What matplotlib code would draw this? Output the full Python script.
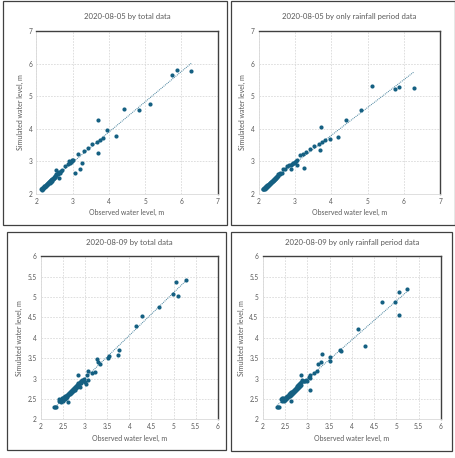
import numpy as np
import matplotlib
matplotlib.use("Agg")
import matplotlib.pyplot as plt
from matplotlib.patches import Rectangle

plt.rcParams['font.family'] = ['Lato', 'DejaVu Sans']

# 2020-08-05, total data
obs1 = [2.13, 2.14, 2.15, 2.16, 2.17, 2.18, 2.19, 2.20, 2.21, 2.22, 2.23, 2.24, 2.25, 2.26, 2.27,
        2.28, 2.29, 2.30, 2.31, 2.32, 2.33, 2.34, 2.35, 2.36, 2.37, 2.38, 2.39, 2.40, 2.41, 2.42,
        2.43, 2.44, 2.45, 2.46, 2.47, 2.48, 2.49, 2.50, 2.51, 2.52, 2.53, 2.54, 2.55, 2.56, 2.58,
        2.60, 2.61, 2.63, 2.65, 2.68, 2.70, 2.80, 2.87, 2.89, 2.92, 2.94, 2.97, 2.99, 3.02, 3.06,
        3.15, 3.21, 3.26, 3.30, 3.41, 3.53, 3.66, 3.69, 3.70, 3.74, 3.83, 3.95, 4.18, 4.42, 4.84,
        5.13, 5.74, 5.87, 6.27]
sim1 = [2.13, 2.16, 2.12, 2.17, 2.15, 2.19, 2.18, 2.21, 2.20, 2.23, 2.22, 2.25, 2.24, 2.27, 2.26,
        2.29, 2.28, 2.31, 2.30, 2.33, 2.32, 2.35, 2.36, 2.34, 2.38, 2.39, 2.37, 2.41, 2.42, 2.40,
        2.44, 2.45, 2.46, 2.44, 2.48, 2.50, 2.47, 2.52, 2.55, 2.50, 2.57, 2.73, 2.60, 2.62, 2.63,
        2.60, 2.48, 2.66, 2.64, 2.70, 2.73, 2.86, 2.90, 3.02, 2.95, 2.99, 3.00, 3.03, 3.04, 2.63,
        3.21, 2.75, 2.93, 3.30, 3.41, 3.52, 3.58, 3.25, 4.27, 3.66, 3.72, 3.96, 3.79, 4.61, 4.59,
        4.76, 5.66, 5.82, 5.78]

# 2020-08-05, only rainfall period data
obs2 = [2.12, 2.13, 2.14, 2.15, 2.16, 2.17, 2.18, 2.19, 2.20, 2.21, 2.22, 2.23, 2.24, 2.25, 2.26,
        2.27, 2.28, 2.29, 2.30, 2.31, 2.32, 2.33, 2.34, 2.35, 2.36, 2.37, 2.38, 2.39, 2.40, 2.41,
        2.42, 2.43, 2.44, 2.45, 2.46, 2.47, 2.48, 2.49, 2.50, 2.51, 2.52, 2.54, 2.56, 2.58, 2.60,
        2.63, 2.68, 2.72, 2.79, 2.84, 2.88, 2.90, 2.93, 2.95, 2.98, 3.01, 3.03, 3.06, 3.06, 3.14,
        3.22, 3.25, 3.29, 3.40, 3.52, 3.66, 3.69, 3.72, 3.73, 3.83, 3.95, 4.17, 4.41, 4.83, 5.12,
        5.74, 5.87, 6.28]
sim2 = [2.13, 2.15, 2.14, 2.17, 2.16, 2.18, 2.20, 2.19, 2.21, 2.23, 2.22, 2.24, 2.26, 2.25, 2.27,
        2.29, 2.28, 2.30, 2.32, 2.31, 2.33, 2.35, 2.34, 2.36, 2.38, 2.37, 2.39, 2.41, 2.40, 2.42,
        2.44, 2.43, 2.45, 2.47, 2.46, 2.48, 2.50, 2.49, 2.52, 2.55, 2.53, 2.62, 2.60, 2.62, 2.63,
        2.65, 2.75, 2.76, 2.86, 2.88, 2.89, 2.75, 2.92, 2.94, 2.96, 2.99, 3.02, 2.87, 3.05, 3.19,
        3.23, 2.79, 3.28, 3.37, 3.47, 3.53, 3.35, 4.06, 3.58, 3.64, 3.68, 3.76, 4.28, 4.59, 5.33,
        5.22, 5.28, 5.26]

# 2020-08-09, total data
obs3 = [2.30, 2.32, 2.35, 2.40, 2.42, 2.44, 2.45, 2.46, 2.47, 2.48, 2.49, 2.50, 2.51, 2.52, 2.53,
        2.54, 2.55, 2.56, 2.57, 2.58, 2.59, 2.60, 2.61, 2.61, 2.62, 2.63, 2.64, 2.65, 2.66, 2.67,
        2.68, 2.69, 2.70, 2.71, 2.72, 2.73, 2.74, 2.75, 2.76, 2.77, 2.78, 2.79, 2.80, 2.81, 2.82,
        2.83, 2.84, 2.85, 2.85, 2.86, 2.88, 2.89, 2.90, 2.91, 2.93, 2.95, 2.97, 3.00, 3.03, 3.05,
        3.06, 3.07, 3.16, 3.22, 3.26, 3.30, 3.34, 3.51, 3.53, 3.74, 3.77, 4.14, 4.29, 4.68, 4.98,
        5.06, 5.09, 5.28]
sim3 = [2.31, 2.30, 2.31, 2.44, 2.51, 2.46, 2.48, 2.42, 2.52, 2.47, 2.50, 2.45, 2.52, 2.49, 2.55,
        2.50, 2.56, 2.53, 2.58, 2.55, 2.60, 2.57, 2.42, 2.62, 2.59, 2.64, 2.61, 2.66, 2.63, 2.68,
        2.65, 2.70, 2.67, 2.72, 2.69, 2.74, 2.71, 2.77, 2.73, 2.79, 2.76, 2.81, 2.78, 2.84, 2.80,
        2.86, 2.82, 3.09, 2.88, 2.84, 2.91, 2.80, 2.95, 2.88, 2.96, 2.93, 2.99, 2.92, 2.87, 3.08,
        3.18, 2.96, 3.14, 3.15, 3.48, 3.41, 3.36, 3.50, 3.56, 3.58, 3.70, 4.30, 4.53, 4.75, 5.08,
        5.37, 5.02, 5.42]

# 2020-08-09, only rainfall period data
obs4 = [2.32, 2.34, 2.36, 2.42, 2.43, 2.44, 2.45, 2.46, 2.47, 2.48, 2.49, 2.50, 2.51, 2.52, 2.53,
        2.54, 2.55, 2.56, 2.57, 2.58, 2.59, 2.60, 2.61, 2.62, 2.63, 2.63, 2.64, 2.65, 2.66, 2.67,
        2.68, 2.69, 2.70, 2.71, 2.72, 2.73, 2.74, 2.75, 2.76, 2.77, 2.78, 2.79, 2.80, 2.81, 2.82,
        2.83, 2.84, 2.85, 2.85, 2.87, 2.88, 2.90, 2.92, 2.95, 2.98, 3.00, 3.04, 3.05, 3.07, 3.07,
        3.14, 3.21, 3.25, 3.30, 3.34, 3.52, 3.52, 3.74, 3.75, 4.14, 4.29, 4.67, 4.97, 5.05, 5.06,
        5.24]
sim4 = [2.29, 2.30, 2.31, 2.50, 2.46, 2.52, 2.48, 2.53, 2.45, 2.50, 2.47, 2.52, 2.49, 2.54, 2.50,
        2.56, 2.52, 2.58, 2.54, 2.60, 2.56, 2.62, 2.58, 2.64, 2.46, 2.60, 2.66, 2.62, 2.68, 2.64,
        2.70, 2.66, 2.72, 2.68, 2.74, 2.70, 2.76, 2.72, 2.79, 2.75, 2.81, 2.77, 2.84, 2.79, 2.86,
        2.81, 2.88, 3.09, 2.84, 2.91, 2.96, 2.93, 2.95, 2.93, 2.97, 2.95, 3.04, 3.01, 2.73, 3.09,
        3.13, 3.19, 3.36, 3.40, 3.60, 3.52, 3.42, 3.71, 3.67, 4.22, 3.81, 4.88, 4.89, 5.12, 4.57,
        5.19]

titles = ["2020-08-05 by total data", "2020-08-05 by only rainfall period data",
          "2020-08-09 by total data", "2020-08-09 by only rainfall period data"]
ticks_a = [2, 3, 4, 5, 6, 7]
ticks_b = [2, 2.5, 3, 3.5, 4, 4.5, 5, 5.5, 6]
labels_b = ["2", "2.5", "3", "3.5", "4", "4.5", "5", "5.5", "6"]

W, H = 456, 458
fig = plt.figure(figsize=(W / 100, H / 100), dpi=100)

color = "#156082"
gray = "#595959"

# pixel boxes: plot area (l, t, r, b), outer frame (l, t, r, b), title y
panels = [
    (obs1, sim1, titles[0], ticks_a, None, (36.5, 31.3, 217.7, 193.7), (3, 1, 227, 225), 17),
    (obs2, sim2, titles[1], ticks_a, None, (258.7, 31.3, 440.3, 193.7), (231, 1, 455, 225), 17),
    (obs3, sim3, titles[2], ticks_b, labels_b, (40.9, 256.3, 217.8, 419.3), (7, 232, 226, 450), 243),
    (obs4, sim4, titles[3], ticks_b, labels_b, (262.7, 256.3, 441, 419.3), (231, 232, 452, 451), 243),
]

for obs, sim, title, ticks, labels, box, frame, ty in panels:
    l, t, r, b = box
    ax = fig.add_axes([l / W, 1 - b / H, (r - l) / W, (b - t) / H])

    # outer frame around each chart
    fl, ft, fr, fb = frame
    fig.add_artist(Rectangle((fl / W, 1 - fb / H), (fr - fl) / W, (fb - ft) / H,
                             transform=fig.transFigure, fill=False, ec="#404040", lw=0.9))

    ax.scatter(obs, sim, s=9, color=color, zorder=3, linewidths=0)

    # linear trendline
    k, c = np.polyfit(obs, sim, 1)
    xs = np.array([min(obs), max(obs)])
    ax.plot(xs, k * xs + c, color=color, lw=0.7, ls=(0, (1, 1)), alpha=0.8, zorder=2)

    ax.set_xlim(ticks[0], ticks[-1])
    ax.set_ylim(ticks[0], ticks[-1])
    ax.set_xticks(ticks)
    ax.set_yticks(ticks)
    if labels:
        ax.set_xticklabels(labels)
        ax.set_yticklabels(labels)
    ax.tick_params(length=0, labelsize=4.8, labelcolor=gray, pad=3)
    ax.grid(True, color="#D9D9D9", lw=0.6, ls=(0, (2, 1.5)))
    ax.set_axisbelow(True)
    for side in ["top", "right"]:
        ax.spines[side].set_color("#404040")
        ax.spines[side].set_linewidth(1.0)
    for side in ["left", "bottom"]:
        ax.spines[side].set_color("#D9D9D9")
        ax.spines[side].set_linewidth(0.6)

    ax.set_xlabel("Observed water level, m", fontsize=5, color=gray, labelpad=3)
    ax.set_ylabel("Simulated water level, m", fontsize=5, color=gray, labelpad=3)
    fig.text((l + r) / 2 / W, 1 - ty / H, title, fontsize=5.6, color=gray,
             ha="center", va="center")

fig.savefig("out.png", dpi=100)
